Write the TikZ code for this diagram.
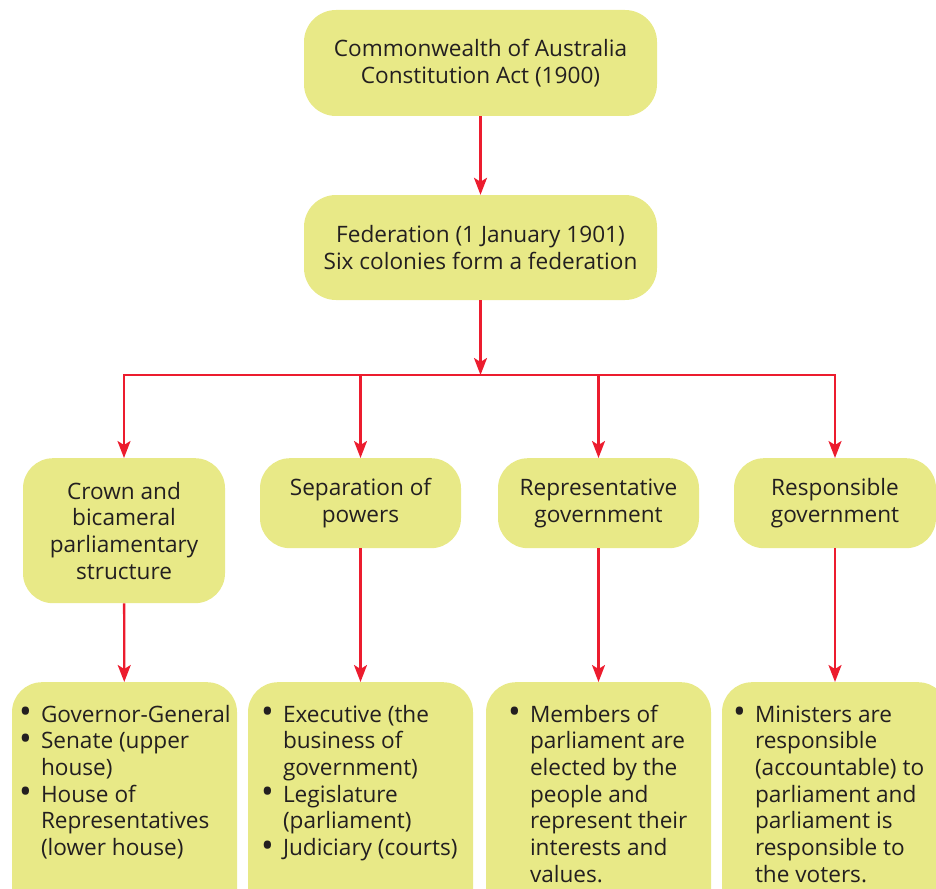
\documentclass[tikz,border=0pt]{standalone}
\usepackage{fontspec}
\setmainfont{Open Sans}
\usetikzlibrary{arrows.meta}
\definecolor{boxfill}{RGB}{232,233,135}
\definecolor{arrred}{RGB}{236,28,46}
\definecolor{txt}{RGB}{35,31,32}
\newcommand{\bul}{\raisebox{-1.6pt}{\scalebox{1.5}{\textbullet}}}
\begin{document}
\begin{tikzpicture}[x=1pt,y=-1pt,
  box/.style={rounded corners=32pt,fill=boxfill,draw=none,text=txt,align=center,
    inner sep=0pt,font=\fontsize{22.6}{26.7}\selectfont},
  arr/.style={draw=arrred,line width=2.3pt,-{Stealth[length=17pt,width=13pt,inset=4pt]}},
  ln/.style={draw=arrred,line width=2.3pt},
  listtxt/.style={anchor=base west,inner sep=0pt,text=txt,
    font=\fontsize{22.6}{26.7}\selectfont}]
\useasboundingbox (0,0) rectangle (936,888);
% top boxes
\node[box,minimum width=353pt,minimum height=106pt] (act) at (480.5,63) {Commonwealth of Australia\\Constitution Act (1900)};
\node[box,minimum width=353pt,minimum height=105pt] (fed) at (480.5,247.5) {Federation (1 January 1901)\\Six colonies form a federation};
\coordinate (bar) at (480.5,375);
% middle boxes
\node[box,rounded corners=30pt,minimum width=202pt,minimum height=145pt,anchor=north] (m1) at (124,458) {Crown and\\bicameral\\parliamentary\\structure};
\node[box,rounded corners=30pt,minimum width=201pt,minimum height=90pt,anchor=north] (m2) at (360.5,458) {Separation of\\powers};
\node[box,rounded corners=30pt,minimum width=201pt,minimum height=90pt,anchor=north] (m3) at (598.5,458) {Representative\\government};
\node[box,rounded corners=30pt,minimum width=202pt,minimum height=90pt,anchor=north] (m4) at (835,458) {Responsible\\government};
% bottom boxes
\node[box,rounded corners=30pt,minimum width=225pt,minimum height=260pt,anchor=north] (b1) at (124.5,682) {};
\node[box,rounded corners=30pt,minimum width=225pt,minimum height=260pt,anchor=north] (b2) at (360.5,682) {};
\node[box,rounded corners=30pt,minimum width=225pt,minimum height=260pt,anchor=north] (b3) at (598.5,682) {};
\node[box,rounded corners=30pt,minimum width=226pt,minimum height=260pt,anchor=north] (b4) at (835,682) {};
% list texts
\node[listtxt] (t1) at ([xshift=7pt,yshift=-40pt]b1.north west) {%
\begin{tabular}[t]{@{}p{22pt}@{}l@{}}
\bul & Governor-General\\
\bul & Senate (upper\\
 & house)\\
\bul & House of\\
 & Representatives\\
 & (lower house)
\end{tabular}};
\node[listtxt] (t2) at ([xshift=13pt,yshift=-40pt]b2.north west) {%
\begin{tabular}[t]{@{}p{22pt}@{}l@{}}
\bul & Executive (the\\
 & business of\\
 & government)\\
\bul & Legislature\\
 & (parliament)\\
\bul & Judiciary (courts)
\end{tabular}};
\node[listtxt] (t3) at ([xshift=22pt,yshift=-40pt]b3.north west) {%
\begin{tabular}[t]{@{}p{22pt}@{}l@{}}
\bul & Members of\\
 & parliament are\\
 & elected by the\\
 & people and\\
 & represent their\\
 & interests and\\
 & values.
\end{tabular}};
\node[listtxt] (t4) at ([xshift=11pt,yshift=-40pt]b4.north west) {%
\begin{tabular}[t]{@{}p{22pt}@{}l@{}}
\bul & Ministers are\\
 & responsible\\
 & (accountable) to\\
 & parliament and\\
 & parliament is\\
 & responsible to\\
 & the voters.
\end{tabular}};
% connectors
\draw[arr] (act) -- (fed);
\draw[arr] (fed) -- (bar);
\draw[ln] (m1.north |- bar) -- (m4.north |- bar);
\draw[arr] (bar) -| (m1);
\draw[arr] (bar) -| (m2);
\draw[arr] (bar) -| (m3);
\draw[arr] (bar) -| (m4);
\draw[arr] (m1) -- (b1);
\draw[arr] (m2) -- (b2);
\draw[arr] (m3) -- (b3);
\draw[arr] (m4) -- (b4);
\end{tikzpicture}
\end{document}
